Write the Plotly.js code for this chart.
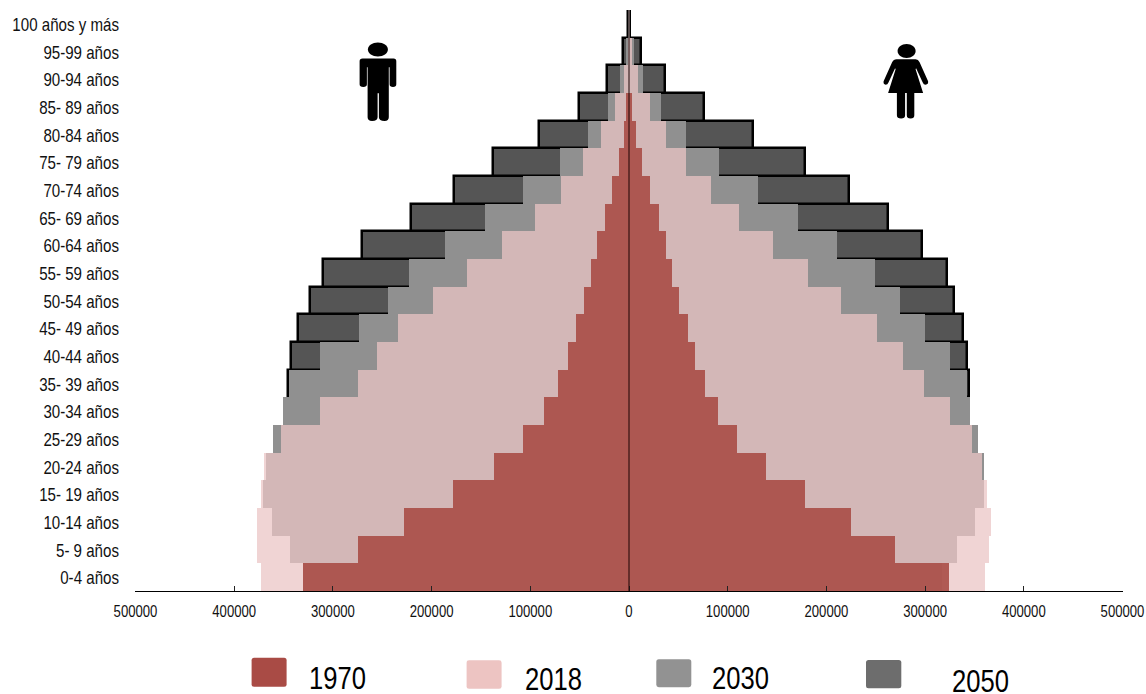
<!DOCTYPE html>
<html>
<head>
<meta charset="utf-8">
<script src="https://cdn.plot.ly/plotly-3.0.1.min.js"></script>
<style>html,body{margin:0;padding:0;background:#fff}#chart{width:1146px;height:694px}</style>
</head>
<body>
<div id="chart"></div>
<script>
// Ordered from the youngest group (bottom) to the oldest (top)
const ageGroups = ["0-4 años","5- 9 años","10-14 años","15- 19 años","20-24 años","25-29 años","30-34 años","35- 39 años","40-44 años","45- 49 años","50-54 años","55- 59 años","60-64 años","65- 69 años","70-74 años","75- 79 años","80-84 años","85- 89 años","90-94 años","95-99 años","100 años y más"];

const men1970   = [330.7,275,228.3,178.2,136.3,106.9,86.3,72.4,62,53.5,46,38.6,32,24.7,17.3,10.2,5.5,2.8,0.5,0.2,0.05];
const women1970 = [324,269.7,224.7,178,138.5,109.8,89.9,77,67.2,59.4,51,44,37.8,30,21.6,13,7,3.3,0.5,0.3,0.05];
const men2018   = [373,376.4,377.4,373.3,369.6,353,313,275,255.7,234,198.5,164,128.5,95,68.7,46.4,28,14.6,5.5,1.5,0.2];
const women2018 = [360.3,364.7,366.4,362.4,357.6,348,325.5,298.8,278,250.8,214.6,181,146.3,111.8,83,58,37,21,8.7,3.5,0.4];
const men2030   = [330,343.5,361.8,371,367.5,360.8,350.6,344,313,274,243.8,223,186.7,146.4,107.6,70.4,41.6,21.4,8.8,3,0.3];
const women2030 = [317,332,350.2,360,359.6,354,345.8,342.7,324.8,299.5,274.7,248.8,210.5,171,131,91.5,58,32,14.5,5,0.6];
const men2050   = [265,280,300,320,330,338,340,345,342,335,323.6,310,270.5,220.5,177,138,91.4,50.5,22,6.5,1];
const women2050 = [257,270,290,310,325,332,338,344,342.7,338.3,329.5,322,297,262,222.4,178.8,125.7,75.7,36.8,12,1.5];

const axisTicks = [-500000,-400000,-300000,-200000,-100000,0,100000,200000,300000,400000,500000];
const axisLabels = ["500000","400000","300000","200000","100000","0","100000","200000","300000","400000","500000"];

const legendYears = ["1970","2018","2030","2050"];
const legendColors = ["#a94b45","#edc4c2","#929292","#6d6d6d"];

const W = 1146, H = 694;
const M = {l: 135.4, r: 22.6, t: 9.7, b: 103};
const FONT = '"Liberation Sans",Arial,sans-serif';
const px = (x) => (x - M.l) / (W - M.l - M.r);
const py = (y) => (H - M.b - y) / (H - M.t - M.b);
// Converts a path written in page pixels into paper coordinates
const toPaper = (d) => d.replace(/(-?[\d.]+),(-?[\d.]+)/g, (_, x, y) => px(+x).toFixed(5) + ',' + py(+y).toFixed(5));

function pyramidTrace(name, men, women, color, line) {
  return {
    type: 'bar', orientation: 'h', name: name,
    y: ageGroups.concat(ageGroups),
    x: men.map(v => -v * 1000).concat(women.map(v => v * 1000)),
    marker: {color: color, line: line || {width: 0}},
    width: 1, hoverinfo: 'skip', showlegend: false
  };
}

const traces = [
  pyramidTrace('2050', men2050, women2050, '#555555', {color: '#000000', width: 2.5}),
  pyramidTrace('2030', men2030, women2030, '#909090'),
  pyramidTrace('2018', men2018, women2018, 'rgba(235,197,197,0.74)'),
  pyramidTrace('1970', men1970, women1970, 'rgba(169,76,70,0.9)')
];

const manBody = 'M363,58.3 L394,58.3 Q396.7,58.3 396.7,61 L396.7,84 Q396.7,86.7 393.4,86.7 Q390,86.7 390,84 L390,67 L389.2,67 L389.2,117 Q389.2,120.7 385,120.7 Q379.3,120.7 379.3,117 L379.3,93 L378,93 L378,117 Q378,120.7 372.5,120.7 Q368,120.7 368,117 L368,67 L367.3,67 L367.3,84 Q367.3,86.7 363.7,86.7 Q360,86.7 360,84 L360,61 Q360,58.3 363,58.3 Z';
const womanBody = 'M897,59 L916,59 Q918.7,59 920,62 L928.5,81 Q929,84 926,84.5 Q924,84.5 923,82 L916.5,68 L916,69 L923.5,92.7 L914.7,92.7 L914.7,115 Q914.7,118.3 911,118.3 Q907.2,118.3 907.2,115 L907.2,92.7 L905.5,92.7 L905.5,115 Q905.5,118.3 901.5,118.3 Q897.3,118.3 897.3,115 L897.3,92.7 L888.5,92.7 L896,69 L895.5,68 L889,82 Q888,84.5 886,84.5 Q883.5,84 884,81 L892.5,62 Q894,59 897,59 Z';

function ellipsePath(cx, cy, rx, ry) {
  const k = 0.5523;
  return `M${cx - rx},${cy} C${cx - rx},${cy - k * ry} ${cx - k * rx},${cy - ry} ${cx},${cy - ry} C${cx + k * rx},${cy - ry} ${cx + rx},${cy - k * ry} ${cx + rx},${cy} C${cx + rx},${cy + k * ry} ${cx + k * rx},${cy + ry} ${cx},${cy + ry} C${cx - k * rx},${cy + ry} ${cx - rx},${cy + k * ry} ${cx - rx},${cy} Z`;
}
function roundRect(x0, y0, x1, y1, r) {
  return `M${x0 + r},${y0} L${x1 - r},${y0} Q${x1},${y0} ${x1},${y0 + r} L${x1},${y1 - r} Q${x1},${y1} ${x1 - r},${y1} L${x0 + r},${y1} Q${x0},${y1} ${x0},${y1 - r} L${x0},${y0 + r} Q${x0},${y0} ${x0 + r},${y0} Z`;
}
const paperPath = (d, color) => ({type: 'path', xref: 'paper', yref: 'paper', path: toPaper(d), fillcolor: color, line: {width: 0}, layer: 'above'});

const swatchBoxes = [[252,657.7,287,686.7],[467,660.3,502,688.7],[656.7,659.3,691.7,687.3],[866.4,660,901.7,688.3]];
const legendCentres = [[338,678],[553.5,679],[741,678],[980.6,681.5]];

const shapes = [
  {type: 'line', xref: 'x', yref: 'paper', x0: 0, x1: 0, y0: 0, y1: 1, line: {color: '#1a0404', width: 1}, layer: 'above'},
  paperPath(ellipsePath(378.3, 49.3, 10, 7), '#000'),
  paperPath(manBody, '#000'),
  paperPath(ellipsePath(907, 50.7, 9, 7), '#000'),
  paperPath(womanBody, '#000')
].concat(swatchBoxes.map((b, i) => paperPath(roundRect(b[0], b[1], b[2], b[3], 2.5), legendColors[i])));

const annotations = legendYears.map((t, i) => ({
  text: t, xref: 'paper', yref: 'paper', x: px(legendCentres[i][0]), y: py(legendCentres[i][1]),
  xanchor: 'center', yanchor: 'middle', showarrow: false,
  font: {family: FONT, size: 32, color: '#000'}
}));

const layout = {
  width: W, height: H,
  margin: {l: M.l, r: M.r, t: M.t, b: M.b, pad: 0},
  paper_bgcolor: '#fff', plot_bgcolor: '#fff',
  barmode: 'overlay', bargap: 0,
  showlegend: false,
  xaxis: {
    range: [-500500, 500500], tickmode: 'array', tickvals: axisTicks, ticktext: axisLabels,
    showgrid: false, zeroline: false, showline: true, linecolor: '#000', linewidth: 1,
    ticks: 'inside', ticklen: 5, tickwidth: 1, tickcolor: '#222', ticklabeloverflow: 'allow',
    tickfont: {family: FONT, size: 16, color: '#111'}, ticklabelstandoff: 6, layer: 'above traces'
  },
  yaxis: {
    type: 'category', categoryorder: 'array', categoryarray: ageGroups,
    range: [-0.5, 20.5], showgrid: false, zeroline: false, showline: false, ticks: '',
    tickfont: {family: FONT, size: 18, color: '#111'}, ticklabelstandoff: 15
  },
  shapes: shapes, annotations: annotations
};

// The reference type is a condensed face: squeeze the installed one horizontally,
// pivoting on each text's anchor point
function condense(selector, ratio) {
  document.querySelectorAll(selector).forEach(el => {
    const ax = parseFloat(el.getAttribute('x')) || 0;
    const prev = el.getAttribute('transform') || '';
    el.setAttribute('transform', `${prev} translate(${ax},0) scale(${ratio},1) translate(${-ax},0)`);
  });
}

Plotly.newPlot('chart', traces, layout, {displayModeBar: false, responsive: false}).then(() => {
  condense('.xtick text', 0.82);
  condense('.ytick text', 0.84);
  condense('.annotation-text', 0.8);
  document.querySelectorAll('.ytick text').forEach((el) => el.setAttribute('dy', '1'));
});
</script>
</body>
</html>
